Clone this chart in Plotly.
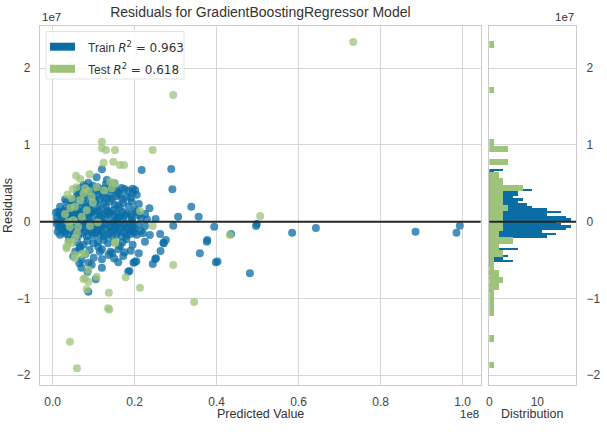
import plotly.graph_objects as go

# ---------------- data (predicted values in units of 1e8, residuals in units of 1e7) -------------
pred_train = [
    # upper band
    0.120, 0.217, 0.289, 0.107, 0.132, 0.087, 0.075, 0.067, 0.115, 0.156, 0.184, 0.201, 0.292,
    0.098, 0.140, 0.168, 0.125, 0.094, 0.060, 0.145, 0.175, 0.110, 0.080, 0.195, 0.130, 0.150,
    # 0.27 .. 0.40
    0.164, 0.180, 0.059, 0.046, 0.132, 0.103, 0.070, 0.090, 0.120, 0.140, 0.155, 0.195, 0.085,
    0.110, 0.125, 0.145, 0.170, 0.075, 0.095, 0.190, 0.060, 0.205, 0.115, 0.160, 0.030, 0.100,
    # 0.145 .. 0.27
    0.034, 0.083, 0.152, 0.172, 0.193, 0.018, 0.079, 0.164, 0.059, 0.095, 0.115, 0.148, 0.236,
    0.338, 0.045, 0.062, 0.105, 0.125, 0.140, 0.210, 0.030, 0.050, 0.070, 0.110, 0.130, 0.185,
    0.200, 0.040, 0.090, 0.160,
    # around zero, positive
    0.014, 0.026, 0.042, 0.132, 0.180, 0.193, 0.209, 0.251, 0.306, 0.356, 0.010, 0.026, 0.046,
    0.067, 0.087, 0.111, 0.132, 0.152, 0.172, 0.193, 0.008, 0.020, 0.032, 0.036, 0.050, 0.055,
    0.065, 0.072, 0.082, 0.088, 0.095, 0.104, 0.110, 0.115, 0.124, 0.136, 0.140, 0.150, 0.156,
    0.165, 0.170, 0.176, 0.190, 0.205, 0.215, 0.225, 0.012, 0.030, 0.052, 0.070, 0.097, 0.118,
    0.148, 0.158, 0.195, 0.230, 0.018, 0.044, 0.092, 0.134,
    # just below zero
    0.294, 0.394, 0.498, 0.496, 0.584, 0.642, 0.885, 0.985, 0.993, 0.435, 0.262, 0.237,
    0.018, 0.034, 0.055, 0.075, 0.100, 0.115, 0.140, 0.155, 0.180, 0.193, 0.209,
    0.030, 0.051, 0.075, 0.095, 0.115, 0.140, 0.155, 0.175, 0.190,
    0.010, 0.025, 0.042, 0.060, 0.068, 0.085, 0.090, 0.105, 0.110, 0.125, 0.130, 0.148, 0.160,
    0.165, 0.170, 0.185, 0.200, 0.215, 0.225, 0.045, 0.022, 0.012, 0.038, 0.058, 0.062, 0.080,
    0.083, 0.098, 0.104, 0.120, 0.125, 0.135, 0.145, 0.160, 0.168, 0.180, 0.195, 0.205, 0.220,
    0.015, 0.028, 0.050, 0.072, 0.092, 0.112, 0.138, 0.152, 0.175, 0.188, 0.198, 0.018, 0.120,
    # -0.2 .. -0.56
    0.276, 0.270, 0.377, 0.263, 0.250, 0.359, 0.398, 0.402, 0.376, 0.172, 0.141, 0.164, 0.115,
    0.136, 0.067, 0.225, 0.099, 0.111, 0.210, 0.252, 0.271, 0.040, 0.085, 0.125, 0.150, 0.180,
    0.065, 0.090, 0.160, 0.190, 0.050, 0.100, 0.150, 0.200, 0.204,
    0.060, 0.075, 0.110, 0.135, 0.170, 0.195, 0.055, 0.080, 0.120, 0.145, 0.175, 0.070, 0.120,
    0.160, 0.095,
    # lower tail
    0.087, 0.105, 0.085, 0.065, 0.087, 0.187, 0.197, 0.481, 0.244, 0.184, 0.070, 0.120,
]
resid_train = [
    0.683, 0.674, 0.687, 0.579, 0.544, 0.509, 0.478, 0.435, 0.413, 0.404, 0.404, 0.413, 0.422,
    0.470, 0.460, 0.440, 0.430, 0.440, 0.420, 0.420, 0.425, 0.450, 0.455, 0.430, 0.490, 0.500,
    0.348, 0.326, 0.326, 0.283, 0.305, 0.283, 0.370, 0.390, 0.380, 0.360, 0.330, 0.370, 0.340,
    0.350, 0.320, 0.300, 0.290, 0.300, 0.310, 0.310, 0.360, 0.350, 0.290, 0.380, 0.290, 0.370,
    0.261, 0.240, 0.218, 0.248, 0.261, 0.196, 0.196, 0.175, 0.152, 0.152, 0.152, 0.152, 0.175,
    0.196, 0.230, 0.250, 0.255, 0.235, 0.265, 0.230, 0.170, 0.200, 0.175, 0.190, 0.205, 0.200,
    0.160, 0.155, 0.215, 0.210,
    0.130, 0.109, 0.130, 0.130, 0.109, 0.065, 0.087, 0.035, 0.065, 0.065, 0.050, 0.040, 0.050,
    0.060, 0.030, 0.025, 0.030, 0.020, 0.035, 0.025, 0.120, 0.080, 0.140, 0.070, 0.100, 0.125,
    0.090, 0.130, 0.100, 0.075, 0.120, 0.090, 0.135, 0.070, 0.100, 0.090, 0.120, 0.080, 0.110,
    0.070, 0.125, 0.080, 0.100, 0.130, 0.050, 0.100, 0.000, -0.010, 0.070, 0.000, -0.005, 0.045,
    -0.010, 0.050, -0.010, 0.030, 0.100, 0.035, 0.140, 0.140,
    -0.052, -0.065, -0.030, -0.056, -0.143, -0.082, -0.130, -0.143, -0.052, -0.160, -0.160, -0.173,
    -0.050, -0.080, -0.090, -0.060, -0.080, -0.050, -0.070, -0.040, -0.080, -0.060, -0.040,
    -0.150, -0.170, -0.150, -0.140, -0.170, -0.140, -0.170, -0.140, -0.160,
    -0.030, -0.020, -0.040, -0.030, -0.100, -0.030, -0.110, -0.030, -0.120, -0.020, -0.100, -0.110, -0.020,
    -0.100, -0.050, -0.110, -0.090, -0.120, -0.060, -0.110, -0.100, -0.130, -0.180, -0.130, -0.190, -0.120,
    -0.190, -0.180, -0.150, -0.130, -0.190, -0.170, -0.190, -0.130, -0.190, -0.180, -0.120, -0.170, -0.150,
    -0.080, -0.120, -0.050, -0.020, -0.060, -0.090, -0.040, -0.080, -0.030, -0.020, -0.140, -0.170, -0.060,
    -0.239, -0.274, -0.239, -0.382, -0.486, -0.412, -0.529, -0.520, -0.261, -0.447, -0.391, -0.317, -0.391,
    -0.434, -0.326, -0.261, -0.282, -0.326, -0.412, -0.477, -0.282, -0.240, -0.250, -0.240, -0.260, -0.230,
    -0.360, -0.370, -0.360, -0.380, -0.450, -0.470, -0.480, -0.525, -0.515,
    -0.270, -0.300, -0.260, -0.280, -0.270, -0.300, -0.390, -0.420, -0.360, -0.410, -0.400, -0.500, -0.490,
    -0.530, -0.560,
    -0.913, -0.751, -0.652, -0.542, -0.535, -0.643, -0.535, -0.673, -0.551, -0.652, -0.600, -0.600,
]

pred_test = [
    0.733, 0.294, 0.244, 0.506, 0.244, 0.432, 0.294, 0.345, 0.042, 0.059, 0.135, 0.138, 0.137,
    0.213, 0.178, 0.107, 0.075, 0.083, 0.054, 0.034, 0.046, 0.071, 0.079, 0.087, 0.152, 0.120,
    0.120, 0.130, 0.152, 0.124, 0.148, 0.164, 0.174, 0.067, 0.049, 0.079, 0.107, 0.140, 0.152,
    0.144, 0.046, 0.054, 0.067, 0.095, 0.213, 0.071, 0.038, 0.042, 0.062, 0.091, 0.038, 0.034,
    0.059, 0.054, 0.054, 0.152, 0.079, 0.087, 0.057, 0.090, 0.058, 0.088, 0.125, 0.036, 0.075,
    0.098, 0.043, 0.083, 0.030, 0.050, 0.110,
]
resid_test = [
    2.343, 1.652, 0.935, 0.074, -0.056, -0.173, -0.565, -1.047, -1.565, -1.911, -1.130, -1.145, -0.926,
    -0.860, -0.725, -0.717, -0.747, -0.882, -0.477, -0.347, -0.282, -0.421, -0.412, -0.630, -0.282, 1.043,
    0.957, 0.935, 0.935, 0.769, 0.782, 0.739, 0.740, 0.557, 0.426, 0.435, 0.448, 0.522, 0.501,
    0.435, 0.305, 0.196, 0.283, 0.326, 0.140, 0.065, 0.000, -0.065, -0.065, -0.056, -0.261, -0.326,
    -0.152, -0.217, -0.434, -0.261, -0.738, -0.782, 0.600, 0.620, 0.450, 0.400, 0.410, 0.350, 0.370,
    0.250, 0.180, 0.150, 0.100, 0.020, -0.010,
]

# histogram counts (50 bins each, top bin first) and bin ranges (residual, 1e7)
train_hist_counts = [3, 1, 1, 2, 2, 3, 3, 5, 9, 6, 6, 5, 7, 6, 8, 9, 12, 15, 12, 16,
                     17, 14, 15, 17, 16, 11, 14, 12, 5, 4, 2, 2, 6, 2, 1, 4, 3, 5, 1, 1,
                     0, 2, 1, 0, 1, 0, 0, 1, 0, 1]
train_hist_range = [-0.913, 0.687]
test_hist_counts = [1, 0, 0, 0, 0, 0, 0, 1, 0, 0, 0, 0, 0, 0, 0, 1, 4, 0, 4, 0,
                    2, 3, 7, 3, 3, 4, 3, 3, 3, 2, 5, 2, 3, 1, 1, 2, 3, 2, 1, 1,
                    1, 1, 0, 0, 0, 1, 0, 0, 0, 1]
test_hist_range = [-1.910, 2.356]

train_r2 = "0.963"
test_r2 = "0.618"
x_ticks = [0.0, 0.2, 0.4, 0.6, 0.8, 1.0]
y_ticks = [-2, -1, 0, 1, 2]
hist_ticks = [0, 10]

# ---------------- style ----------------
BLUE = (10, 110, 165)
GREEN = (158, 196, 124)
def rgba(c, a):
    return f"rgba({c[0]},{c[1]},{c[2]},{a})"

FONT = "Liberation Sans, Arial, sans-serif"
TXT = "#333333"
GRID = "#d6d6d6"
SPINE = "#cccccc"

W, H = 607, 439
ML, MR, MT, MB = 40, 31, 26, 54
PW, PH = W - ML - MR, H - MT - MB

def px2x(px):
    return (px - ML) / PW

def py2y(py):
    return (H - MB - py) / PH

main_dom = [0, px2x(480.7)]
hist_dom = [px2x(489.3), 1]


def centers(rng, counts):
    lo, hi = rng
    n = len(counts)
    w = (hi - lo) / n
    # top bin first
    return [hi - (i + 0.5) * w for i in range(n)], w

tr_c, tr_w = centers(train_hist_range, train_hist_counts)
te_c, te_w = centers(test_hist_range, test_hist_counts)

fig = go.Figure()
fig.add_trace(go.Scatter(x=pred_train, y=resid_train, mode="markers", name="Train",
                         marker=dict(size=8, color=rgba(BLUE, 0.75), line=dict(width=0)),
                         xaxis="x", yaxis="y", showlegend=False))
fig.add_trace(go.Scatter(x=pred_test, y=resid_test, mode="markers", name="Test",
                         marker=dict(size=8, color=rgba(GREEN, 0.75), line=dict(width=0)),
                         xaxis="x", yaxis="y", showlegend=False))
fig.add_trace(go.Bar(x=train_hist_counts, y=tr_c, width=tr_w, orientation="h",
                     marker=dict(color=rgba(BLUE, 1), line=dict(width=0)),
                     xaxis="x2", yaxis="y2", showlegend=False, name="Train"))
fig.add_trace(go.Bar(x=test_hist_counts, y=te_c, width=te_w, orientation="h",
                     marker=dict(color=rgba(GREEN, 1), line=dict(width=0)),
                     xaxis="x2", yaxis="y2", showlegend=False, name="Test"))

axis_common = dict(showline=True, linecolor=SPINE, linewidth=1.25, mirror=True,
                   zeroline=False, ticks="", gridcolor=GRID, gridwidth=1,
                   automargin=False,
                   tickfont=dict(family=FONT, size=12, color="#444444"))

fig.update_layout(
    width=W, height=H,
    margin=dict(l=ML, r=MR, t=MT, b=MB, autoexpand=False),
    paper_bgcolor="white", plot_bgcolor="white",
    barmode="overlay", bargap=0,
    font=dict(family=FONT, color=TXT),
    title=dict(text="Residuals for GradientBoostingRegressor Model",
               x=px2x(260.4), xref="paper", xanchor="center",
               y=1 - 12 / H, yref="container", yanchor="middle",
               font=dict(family=FONT, size=14, color=TXT)),
    xaxis=dict(domain=main_dom, range=[-0.031, 1.044], anchor="y",
               tickvals=x_ticks, ticktext=[f"{v:.1f}" for v in x_ticks],
               showgrid=True, ticklabelstandoff=5, **axis_common),
    yaxis=dict(range=[-2.129, 2.551], anchor="x", tickvals=y_ticks,
               showgrid=True, ticklabelstandoff=6, **axis_common),
    xaxis2=dict(domain=hist_dom, range=[0, 18.06], anchor="y2",
                tickvals=hist_ticks, showgrid=False, ticklabelstandoff=5, **axis_common),
    yaxis2=dict(anchor="x2", matches="y", side="right", tickvals=y_ticks,
                showgrid=True, ticklabelstandoff=7, **axis_common),
)

# zero lines
for xr, yr in (("x domain", "y"), ("x2 domain", "y2")):
    fig.add_shape(type="line", xref=xr, yref=yr, x0=0, x1=1, y0=0, y1=0,
                  line=dict(color="#262626", width=2), layer="above")

# legend (box, swatches, texts)
fig.add_shape(type="rect", xref="paper", yref="paper",
              x0=px2x(46), x1=px2x(184), y0=py2y(79), y1=py2y(31.5),
              fillcolor="rgba(255,255,255,0.8)", line=dict(color="#e3e3e3", width=1),
              layer="above")
for col, ytop, ybot in ((BLUE, 42.7, 50.7), (GREEN, 64.8, 72.8)):
    fig.add_shape(type="rect", xref="paper", yref="paper",
                  x0=px2x(50), x1=px2x(75), y0=py2y(ybot), y1=py2y(ytop),
                  fillcolor=rgba(col, 1), line=dict(width=0), layer="above")

MATH = "DejaVu Sans"
def leg_text(name, r2):
    return (f"{name} <span style='font-family:{MATH}'><i>R</i><sup>2</sup> = {r2}</span>")

for name, r2, cy in (("Train", train_r2, 46.5), ("Test", test_r2, 68.8)):
    fig.add_annotation(text=leg_text(name, r2), xref="paper", yref="paper",
                       x=px2x(86), y=py2y(cy), xanchor="left", yanchor="middle",
                       showarrow=False, font=dict(family=FONT, size=12, color=TXT))

# offset texts and axis labels
ann = [
    ("1e7", px2x(40), py2y(17), "left", 0, 11.5),
    ("1e7", px2x(576), py2y(17), "right", 0, 11.5),
    ("1e8", px2x(480.7), py2y(414), "right", 0, 11.5),
    ("Predicted Value", px2x(260.4), py2y(414), "center", 0, 12.5),
    ("Distribution", px2x(532.7), py2y(414), "center", 0, 12.5),
    ("Residuals", px2x(7.5), py2y(205.5), "center", -90, 12.5),
]
for t, x, y, xa, ang, fs in ann:
    fig.add_annotation(text=t, xref="paper", yref="paper", x=x, y=y,
                       xanchor=xa, yanchor="middle", textangle=ang, showarrow=False,
                       font=dict(family=FONT, size=fs, color=TXT))

fig.write_html("out.html", config={"displayModeBar": False},
               post_script="document.body.style.margin='0';document.body.style.padding='0';")
